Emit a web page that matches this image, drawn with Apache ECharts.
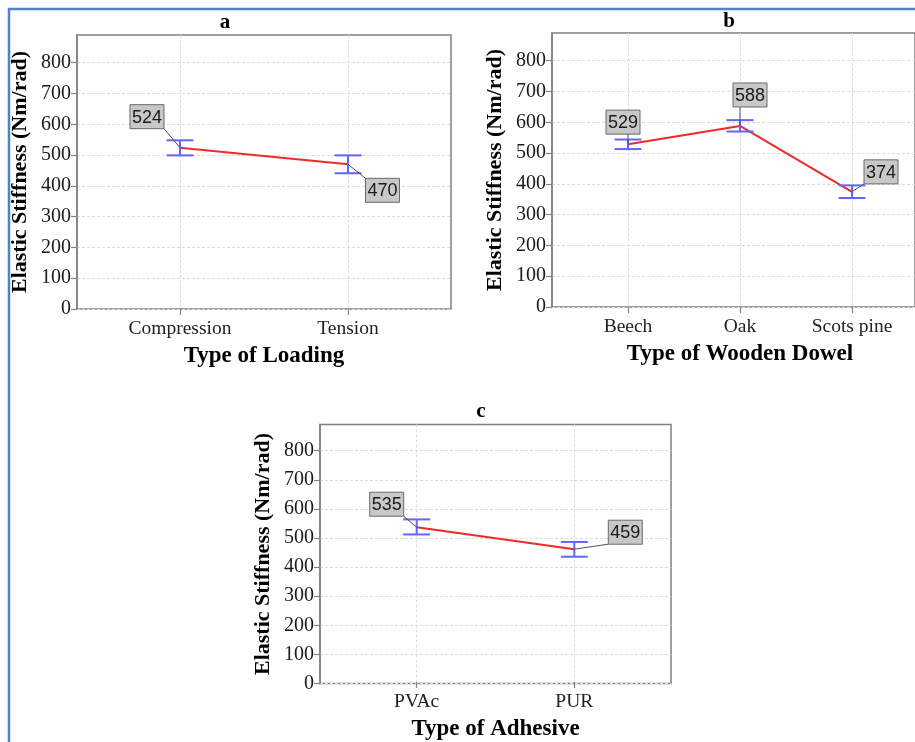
<!DOCTYPE html>
<html>
<head>
<meta charset="utf-8">
<script src="https://cdn.jsdelivr.net/npm/echarts@6/dist/echarts.min.js"></script>
<style>
html,body{margin:0;padding:0;background:#fff;}
#c{width:915px;height:742px;}
</style>
</head>
<body>
<div id="c"></div>
<script>
// ---- data ----
var catsA = ['Compression', 'Tension'];
var meanA = [524, 470];
var lowA = [499, 441];
var highA = [548, 499];

var catsB = ['Beech', 'Oak', 'Scots pine'];
var meanB = [529, 588, 374];
var lowB = [513, 570, 354];
var highB = [544, 607, 395];

var catsC = ['PVAc', 'PUR'];
var meanC = [535, 459];
var lowC = [510, 433];
var highC = [562, 484];

var yTicks = [0, 100, 200, 300, 400, 500, 600, 700, 800];
var yMax = 890;

var panelTitles = ['a', 'b', 'c'];
var xTitles = ['Type of Loading', 'Type of Wooden Dowel', 'Type of Adhesive'];
var yTitle = 'Elastic Stiffness (Nm/rad)';

// ---- layout (pixels) ----
var panels = [
  {cats: catsA, mean: meanA, low: lowA, high: highA,
   outer: {left: 77, top: 35, width: 374, height: 274},
   inner: {left: 180, top: 35, width: 168, height: 274},
   title: [225, 23],
   boxOff: [[-33, -31], [34.5, 26]]},
  {cats: catsB, mean: meanB, low: lowB, high: highB,
   outer: {left: 552, top: 33, width: 375, height: 274},
   inner: {left: 628, top: 33, width: 224, height: 274},
   title: [729, 22],
   boxOff: [[-5, -22], [10, -31], [29, -20]]},
  {cats: catsC, mean: meanC, low: lowC, high: highC,
   outer: {left: 320, top: 424.5, width: 351, height: 259},
   inner: {left: 416.7, top: 424.5, width: 157.6, height: 259},
   title: [481, 412],
   boxOff: [[-30, -23], [51, -17]]}
];

var SERIF = '"Liberation Serif", "Times New Roman", serif';
var grids = [], xAxes = [], yAxes = [], series = [], graphics = [];

panels.forEach(function (p, k) {
  var gO = k * 2, gI = k * 2 + 1;
  grids.push({left: p.outer.left, top: p.outer.top, width: p.outer.width, height: p.outer.height,
    show: true, borderColor: '#808080', borderWidth: 1.5, backgroundColor: 'transparent', containLabel: false});
  grids.push({left: p.inner.left, top: p.inner.top, width: p.inner.width, height: p.inner.height,
    show: false, containLabel: false});

  xAxes.push({type: 'value', gridIndex: gO, show: false, min: 0, max: 1});
  xAxes.push({type: 'category', gridIndex: gI, data: p.cats, boundaryGap: false,
    axisLine: {show: false},
    axisTick: {show: true, inside: false, length: 6, lineStyle: {color: '#808080', width: 1.2}},
    axisLabel: {margin: 10, color: '#222', fontFamily: SERIF, fontSize: 19.5},
    splitLine: {show: true, lineStyle: {color: '#dedede', type: [3, 2], width: 1}},
    name: xTitles[k], nameLocation: 'middle', nameGap: 36,
    nameTextStyle: {fontFamily: SERIF, fontWeight: 'bold', fontSize: 23, color: '#000'}
  });

  yAxes.push({type: 'value', gridIndex: gO, min: 0, max: yMax, interval: 100,
    axisLine: {show: true, lineStyle: {color: '#808080', width: 1.5}},
    axisTick: {show: true, inside: false, length: 6, customValues: yTicks, lineStyle: {color: '#808080', width: 1.2}},
    axisLabel: {margin: 6, customValues: yTicks, color: '#1a1a1a', fontFamily: SERIF, fontSize: 20},
    splitLine: {show: true, lineStyle: {color: '#dcdcdc', type: [3, 2], width: 1}},
    name: yTitle, nameLocation: 'middle', nameGap: 46, nameRotate: 90,
    nameTextStyle: {fontFamily: SERIF, fontWeight: 'bold', fontSize: 22, color: '#000'}
  });
  yAxes.push({type: 'value', gridIndex: gI, min: 0, max: yMax, show: false});

  // mean line
  series.push({type: 'line', xAxisIndex: gI, yAxisIndex: gI, data: p.mean,
    symbol: 'none', lineStyle: {color: '#ee2a2a', width: 2}, z: 3, silent: true});

  // error bars
  var errData = p.cats.map(function (c, i) { return [i, p.low[i], p.high[i]]; });
  series.push({type: 'custom', xAxisIndex: gI, yAxisIndex: gI, data: errData, z: 4, silent: true,
    encode: {x: 0, y: [1, 2]},
    renderItem: function (params, api) {
      var lo = api.coord([api.value(0), api.value(1)]);
      var hi = api.coord([api.value(0), api.value(2)]);
      var hw = 13.5;
      var st = {stroke: '#6464ff', lineWidth: 2};
      return {type: 'group', children: [
        {type: 'line', shape: {x1: lo[0], y1: lo[1], x2: hi[0], y2: hi[1]}, style: st},
        {type: 'line', shape: {x1: lo[0] - hw, y1: lo[1], x2: lo[0] + hw, y2: lo[1]}, style: st},
        {type: 'line', shape: {x1: hi[0] - hw, y1: hi[1], x2: hi[0] + hw, y2: hi[1]}, style: st}
      ]};
    }
  });

  // value labels with leader lines
  var labData = p.cats.map(function (c, i) { return [i, p.mean[i]]; });
  var offs = p.boxOff;
  series.push({type: 'custom', xAxisIndex: gI, yAxisIndex: gI, data: labData, z: 5, silent: true,
    encode: {x: 0, y: 1},
    renderItem: function (params, api) {
      var pt = api.coord([api.value(0), api.value(1)]);
      var o = offs[params.dataIndex];
      var w = 34, h = 24;
      var cx = pt[0] + o[0], cy = pt[1] + o[1];
      var bx = cx - w / 2, by = cy - h / 2;
      var ex = Math.min(Math.max(pt[0], bx), bx + w);
      var ey = Math.min(Math.max(pt[1], by), by + h);
      return {type: 'group', children: [
        {type: 'line', shape: {x1: pt[0], y1: pt[1], x2: ex, y2: ey}, style: {stroke: '#505050', lineWidth: 1}},
        {type: 'rect', shape: {x: bx, y: by, width: w, height: h}, style: {fill: '#c8c8c8', stroke: '#6a6a6a', lineWidth: 1}},
        {type: 'text', style: {text: String(api.value(1)), x: cx, y: cy + 1, align: 'center', verticalAlign: 'middle',
          font: '18px "Liberation Sans", Arial, sans-serif', fill: '#1a1a1a'}}
      ]};
    }
  });

  graphics.push({type: 'text', x: p.title[0], y: p.title[1], silent: true,
    style: {text: panelTitles[k], align: 'center', verticalAlign: 'middle',
      font: 'bold 21px ' + SERIF, fill: '#000'}});
});

// outer blue frame
graphics.push({type: 'polyline', silent: true,
  shape: {points: [[9, 742], [9, 9], [915, 9]]},
  style: {stroke: '#4f82c8', lineWidth: 2.5, fill: null}});

var chart = echarts.init(document.getElementById('c'), null, {renderer: 'canvas'});
chart.setOption({
  animation: false,
  backgroundColor: '#fff',
  grid: grids,
  xAxis: xAxes,
  yAxis: yAxes,
  series: series,
  graphic: graphics
});
</script>
</body>
</html>
